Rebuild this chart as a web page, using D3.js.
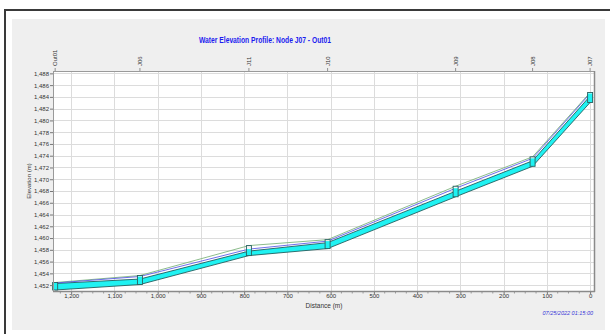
<!DOCTYPE html>
<html>
<head>
<meta charset="utf-8">
<script src="https://cdn.jsdelivr.net/npm/d3@7"></script>
<style>
  html, body { margin: 0; padding: 0; background: #ffffff; }
  svg { display: block; font-family: "Liberation Sans", Arial, sans-serif; }
</style>
</head>
<body>
<svg id="chart" width="610" height="334"></svg>
<script>
// Profile nodes, ordered from outfall (left, far distance) to J07 (distance 0)
const nodes     = ["Out01", "J06", "J11", "J10", "J09", "J08", "J07"];
const distance  = [1237, 1041, 789, 607, 311, 133, 0];          // m from J07
const invert    = [1451.17, 1452.10, 1457.02, 1458.21, 1467.02, 1472.20, 1483.05];
const crown     = [1452.27, 1453.03, 1457.78, 1459.22, 1467.96, 1473.13, 1484.15];
const hgl       = [1452.36, 1453.46, 1458.12, 1459.48, 1468.47, 1473.55, 1484.58];
const egl       = [1452.44, 1453.63, 1458.72, 1459.73, 1468.81, 1473.81, 1484.75];
const xTicks    = [1200, 1100, 1000, 900, 800, 700, 600, 500, 400, 300, 200, 100, 0];
const yTicks    = [1452, 1454, 1456, 1458, 1460, 1462, 1464, 1466, 1468, 1470, 1472, 1474, 1476, 1478, 1480, 1482, 1484, 1486, 1488];
const title     = "Water Elevation Profile: Node J07 - Out01";
const timeStamp = "07/25/2022 01:15:00";

const svg = d3.select("#chart");
const plot = { left: 53, top: 71, right: 594, bottom: 291 };

// Window frame and panel
svg.append("rect").attr("x", 5).attr("y", 10).attr("width", 610).attr("height", 330)
  .attr("fill", "#ffffff").attr("stroke", "#3a3a3a").attr("stroke-width", 2);
svg.append("rect").attr("x", 12).attr("y", 19).attr("width", 593).attr("height", 311)
  .attr("fill", "#efefef");

const x = d3.scaleLinear().domain([1242, -9]).range([plot.left, plot.right]);
const y = d3.scaleLinear().domain([1451.0, 1488.4]).range([plot.bottom, plot.top]);

// Plot background
svg.append("rect").attr("x", plot.left).attr("y", plot.top)
  .attr("width", plot.right - plot.left).attr("height", plot.bottom - plot.top)
  .attr("fill", "#ffffff");

// Grid
const grid = svg.append("g").attr("stroke", "#dcdcdc").attr("stroke-width", 1);
grid.selectAll("line.v").data(xTicks).join("line").attr("class", "v")
  .attr("x1", d => Math.round(x(d)) + 0.5).attr("x2", d => Math.round(x(d)) + 0.5)
  .attr("y1", plot.top).attr("y2", plot.bottom);
grid.selectAll("line.h").data(yTicks).join("line").attr("class", "h")
  .attr("y1", d => Math.round(y(d)) + 0.5).attr("y2", d => Math.round(y(d)) + 0.5)
  .attr("x1", plot.left).attr("x2", plot.right);

// Pipe barrel (invert to crown), filled with water
const idx = d3.range(nodes.length);
svg.append("path").datum(idx)
  .attr("d", d3.area().x(i => x(distance[i])).y0(i => y(invert[i])).y1(i => y(crown[i])))
  .attr("fill", "#1ff2f2").attr("stroke", "#235f5f").attr("stroke-width", 0.9);

// Energy and hydraulic grade lines
svg.append("path").datum(idx)
  .attr("d", d3.line().x(i => x(distance[i])).y(i => y(egl[i])))
  .attr("fill", "none").attr("stroke", "#7fb47f").attr("stroke-width", 0.9);
svg.append("path").datum(idx)
  .attr("d", d3.line().x(i => x(distance[i])).y(i => y(hgl[i])))
  .attr("fill", "none").attr("stroke", "#4a4ae6").attr("stroke-width", 0.8);

// Manholes
const mh = svg.append("g");
idx.forEach(i => {
  const cx = x(distance[i]);
  mh.append("rect").attr("x", cx - 2.5).attr("y", y(egl[i]))
    .attr("width", 5).attr("height", y(invert[i]) - y(egl[i]))
    .attr("fill", "#f4f4f4");
  mh.append("rect").attr("x", cx - 2.5).attr("y", y(hgl[i]))
    .attr("width", 5).attr("height", y(invert[i]) - y(hgl[i]))
    .attr("fill", "#1ff2f2");
  mh.append("rect").attr("x", cx - 2.5).attr("y", y(egl[i]))
    .attr("width", 5).attr("height", y(invert[i]) - y(egl[i]))
    .attr("fill", "none").attr("stroke", "#235f5f").attr("stroke-width", 0.9);
});

// Plot border
svg.append("rect").attr("x", plot.left + 0.5).attr("y", plot.top + 0.5)
  .attr("width", plot.right - plot.left).attr("height", plot.bottom - plot.top)
  .attr("fill", "none").attr("stroke", "#9a9a9a").attr("stroke-width", 1);
svg.append("line").attr("x1", plot.right + 0.5).attr("x2", plot.right + 0.5)
  .attr("y1", plot.top).attr("y2", plot.bottom + 1).attr("stroke", "#8a8a8a").attr("stroke-width", 1.5);
svg.append("line").attr("x1", plot.left).attr("x2", plot.right + 1)
  .attr("y1", plot.bottom + 0.5).attr("y2", plot.bottom + 0.5).attr("stroke", "#8a8a8a").attr("stroke-width", 1.5);

// Bottom axis (distance)
const xAxis = d3.axisBottom(x).tickValues(xTicks).tickSize(2).tickPadding(0)
  .tickFormat(d3.format(","));
const gx = svg.append("g").attr("transform", `translate(0,${plot.bottom + 1})`).call(xAxis);
gx.select(".domain").remove();
gx.selectAll(".tick line").attr("stroke", "#777");
gx.selectAll("text").attr("font-size", "6px").attr("fill", "#333")
  .attr("font-family", "Liberation Sans, Arial, sans-serif");
// minor ticks
svg.append("g").selectAll("line").data(d3.range(1225, -1, -25).filter(v => v % 100 !== 0)).join("line")
  .attr("x1", d => x(d)).attr("x2", d => x(d))
  .attr("y1", plot.bottom + 1).attr("y2", plot.bottom + 2.5)
  .attr("stroke", "#888").attr("stroke-width", 0.8);

// Left axis (elevation)
const yAxis = d3.axisLeft(y).tickValues(yTicks).tickSize(3).tickPadding(1)
  .tickFormat(d3.format(","));
const gy = svg.append("g").attr("transform", `translate(${plot.left},0)`).call(yAxis);
gy.select(".domain").remove();
gy.selectAll(".tick line").attr("stroke", "#777");
gy.selectAll("text").attr("font-size", "6px").attr("fill", "#333")
  .attr("font-family", "Liberation Sans, Arial, sans-serif");

// Top axis: node names
const nodeAxis = svg.append("g");
idx.forEach(i => {
  const cx = x(distance[i]);
  nodeAxis.append("line").attr("x1", cx).attr("x2", cx).attr("y1", plot.top - 3).attr("y2", plot.top)
    .attr("stroke", "#777").attr("stroke-width", 0.8);
  nodeAxis.append("text").attr("transform", `translate(${cx + 2},${plot.top - 5}) rotate(-90)`)
    .attr("font-size", "6px").attr("fill", "#333").text(nodes[i]);
});

// Titles
svg.append("text").attr("x", 265).attr("y", 43).attr("text-anchor", "middle")
  .attr("font-size", "8.5px").attr("font-weight", "bold").attr("fill", "#1c1cf0")
  .attr("textLength", 132).attr("lengthAdjust", "spacingAndGlyphs").text(title);
svg.append("text").attr("transform", `translate(31,${(plot.top + plot.bottom) / 2}) rotate(-90)`)
  .attr("text-anchor", "middle").attr("font-size", "6px").attr("fill", "#333").text("Elevation (m)");
svg.append("text").attr("x", 324).attr("y", 307.5).attr("text-anchor", "middle")
  .attr("font-size", "6.5px").attr("fill", "#333").text("Distance (m)");
svg.append("text").attr("x", 593).attr("y", 315).attr("text-anchor", "end")
  .attr("font-size", "5.5px").attr("font-style", "italic").attr("fill", "#3a3ad8").text(timeStamp);
</script>
</body>
</html>
